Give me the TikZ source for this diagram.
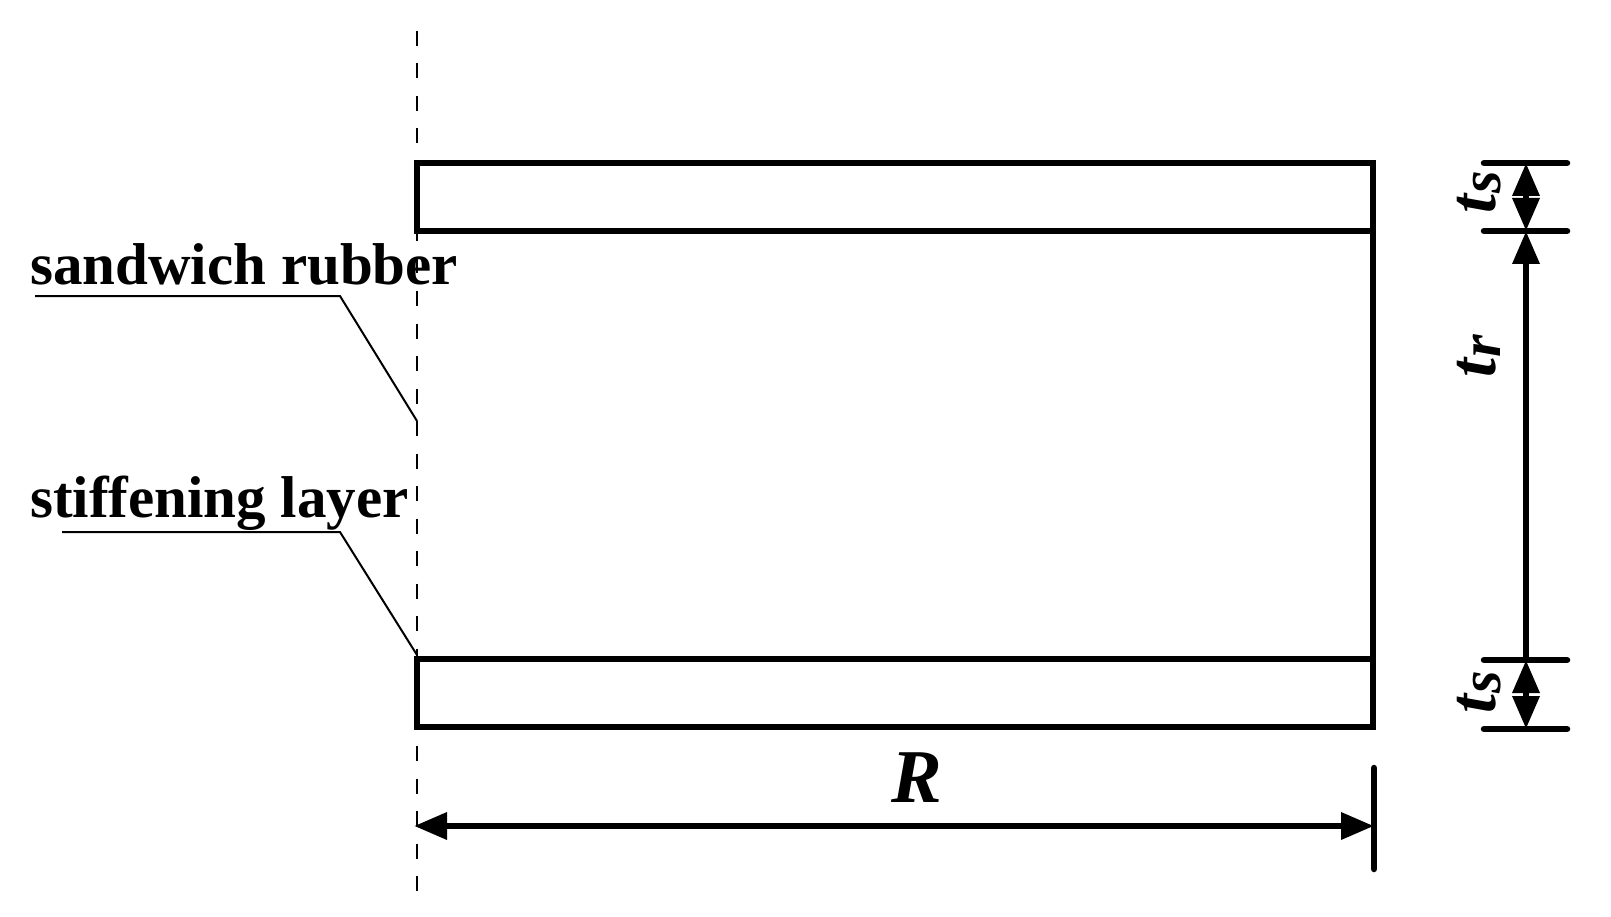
\documentclass[tikz,border=0pt]{standalone}
\usepackage{fontspec}
\setmainfont{Liberation Serif}
\usetikzlibrary{arrows.meta, positioning}

\newcommand{\dimlabel}[1]{\fontsize{68}{68}\selectfont\bfseries\itshape t\kern1pt\raisebox{-5pt}{\fontsize{58}{58}\selectfont #1}}

\begin{document}
\begin{tikzpicture}[x=1pt,y=-1pt,>={Triangle[length=33pt,width=26pt]}]
  \tikzstyle{plate}=[draw=black,line width=6.5pt,outer sep=0pt,inner sep=0pt,minimum width=956pt,minimum height=68pt]
  \tikzstyle{wall}=[line width=6.5pt,line cap=round]
  \tikzstyle{tick}=[line width=6.5pt,line cap=round]
  \tikzstyle{dimline}=[line width=6.5pt]
  \tikzstyle{leader}=[line width=2pt]
  \tikzstyle{caption}=[anchor=base west,inner sep=0pt,font=\fontsize{59}{60}\selectfont\bfseries]
  \tikzstyle{dimtext}=[rotate=90,inner sep=0pt]

  \useasboundingbox (0,0) rectangle (1611,917);

  \node[plate] (topplate) at (895,197) {};
  \node[plate] (botplate) at (895,693) {};
  \draw[wall] (topplate.south east) -- (botplate.north east);

  % centre line
  \coordinate (axistop) at (417,31);
  \coordinate (axisbot) at (417,891);
  \draw[line width=2.5pt,dash pattern=on 15pt off 17.5pt] (axistop) -- (axisbot);

  % labels on the left
  \node[caption] (sandwich) at (30,284) {sandwich rubber};
  \coordinate (sandwicha) at (35,296);
  \coordinate (sandwichb) at (340,296);
  \coordinate (sandwichc) at (417,421);
  \draw[leader] (sandwicha) -- (sandwichb) -- (sandwichc);

  \node[caption] (stiffening) at (30,517) {stiffening layer};
  \coordinate (stiffa) at (62,532);
  \coordinate (stiffb) at (340,532);
  \coordinate (stiffc) at (417,655);
  \draw[leader] (stiffa) -- (stiffb) -- (stiffc);

  % thickness dimensions
  \coordinate (t1l) at (1484,163); \coordinate (t1r) at (1567,163);
  \coordinate (t2l) at (1484,231); \coordinate (t2r) at (1567,231);
  \coordinate (t3l) at (1484,660); \coordinate (t3r) at (1567,660);
  \coordinate (t4l) at (1484,729); \coordinate (t4r) at (1567,729);
  \draw[tick] (t1l) -- (t1r);
  \draw[tick] (t2l) -- (t2r);
  \draw[tick] (t3l) -- (t3r);
  \draw[tick] (t4l) -- (t4r);

  \coordinate (d1) at (1526,163);
  \coordinate (d2) at (1526,231);
  \coordinate (d3) at (1526,660);
  \coordinate (d4) at (1526,729);
  \draw[dimline,<->] (d1) -- (d2);
  \draw[dimline,<-] (d2) -- (d3);
  \draw[dimline,<->] (d3) -- (d4);

  \node[dimtext] (tsup) at (1479,192) {\dimlabel{s}};
  \node[dimtext] (tr) at (1479,356) {\dimlabel{r}};
  \node[dimtext] (tsdown) at (1479,692) {\dimlabel{s}};

  % radius
  \coordinate (ticktop) at (1374,768);
  \coordinate (tickbot) at (1374,869);
  \draw[tick] (ticktop) -- (tickbot);
  \coordinate (ra) at (414,826);
  \coordinate (rb) at (1374,826);
  \draw[dimline,<->] (ra) -- (rb);
  \node[inner sep=0pt,font=\fontsize{76}{76}\selectfont\bfseries\itshape] (rlabel) at (917,778) {R};
\end{tikzpicture}
\end{document}
